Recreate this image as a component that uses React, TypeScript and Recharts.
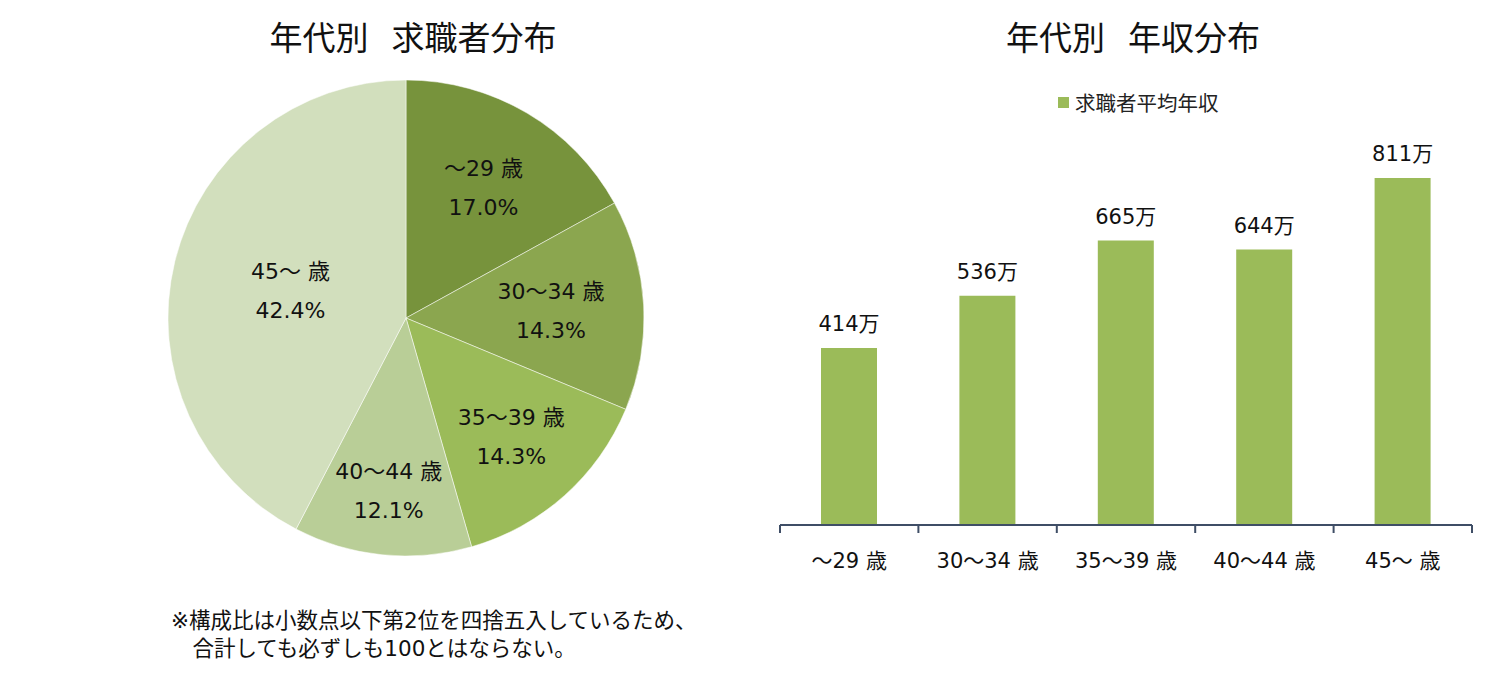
import React from 'react';
import { PieChart, Pie, Cell, BarChart, Bar, XAxis, YAxis, LabelList } from 'recharts';

// 年代別 求職者分布（構成比 %）
const ageGroups = ['～29 歳', '30～34 歳', '35～39 歳', '40～44 歳', '45～ 歳'];
const shares = [17.0, 14.3, 14.3, 12.1, 42.4];
// 年代別 求職者平均年収（万円）
const incomes = [414, 536, 665, 644, 811];

const pieColors = ['#77933c', '#8ba64f', '#9bbb59', '#b9ce97', '#d2dfbd'];
const labelRadius = [0.64, 0.61, 0.665, 0.725, 0.5];
const FONT = '"DejaVu Sans", "Noto Sans CJK JP", sans-serif';
const CJK = '"Noto Sans CJK JP", sans-serif';
const AXIS = '#3f4e66';

const pieData = ageGroups.map((name, i) => ({ name, value: shares[i] }));
const barData = ageGroups.map((name, i) => ({ name, income: incomes[i] }));

const RAD = Math.PI / 180;

function PieLabel(props: any) {
  const { cx, cy, midAngle, outerRadius, index, name, value } = props;
  const r = outerRadius * labelRadius[index];
  const x = cx + r * Math.cos(-midAngle * RAD);
  const y = cy + r * Math.sin(-midAngle * RAD);
  return (
    <text x={x} y={y} textAnchor="middle" fill="#111" fontSize={22} fontFamily={FONT}>
      <tspan x={x} y={y - 11}>{name}</tspan>
      <tspan x={x} y={y + 28}>{value.toFixed(1)}%</tspan>
    </text>
  );
}

function AgeTick(props: any) {
  const { x, y, payload, index, visibleTicksCount, width } = props;
  const half = payload.offset || (width ? width / visibleTicksCount / 2 : 69);
  const last = index === visibleTicksCount - 1;
  return (
    <g>
      <line x1={x - half} x2={x - half} y1={y} y2={y + 8} stroke={AXIS} strokeWidth={2} />
      {last && <line x1={x + half} x2={x + half} y1={y} y2={y + 8} stroke={AXIS} strokeWidth={2} />}
      <text x={x} y={y + 43} textAnchor="middle" fill="#111" fontSize={21} fontFamily={FONT}>
        {payload.value}
      </text>
    </g>
  );
}

const titleStyle: React.CSSProperties = {
  position: 'absolute', top: 14, fontFamily: CJK, fontSize: 33, color: '#111',
  whiteSpace: 'pre', textAlign: 'center', lineHeight: '44px',
};

export default function App() {
  return (
    <div style={{ position: 'absolute', left: 0, top: 0, width: 1496, height: 675, background: '#fff', fontFamily: FONT }}>
      <div style={{ ...titleStyle, left: 213, width: 400 }}>{'年代別\u2002\u2009求職者分布'}</div>
      <div style={{ ...titleStyle, left: 933, width: 400 }}>{'年代別\u2002\u2009年収分布'}</div>

      <div style={{ position: 'absolute', left: 0, top: 0 }}>
        <PieChart width={760} height={600}>
          <Pie
            data={pieData}
            dataKey="value"
            nameKey="name"
            cx={401}
            cy={313}
            outerRadius={238}
            startAngle={90}
            endAngle={-270}
            stroke="#ffffff"
            strokeOpacity={0.5}
            strokeWidth={1}
            label={PieLabel}
            labelLine={false}
            isAnimationActive={false}
          >
            {pieData.map((d, i) => (
              <Cell key={d.name} fill={pieColors[i]} />
            ))}
          </Pie>
        </PieChart>
      </div>

      <div style={{ position: 'absolute', left: 171, top: 607, fontSize: 21.5, lineHeight: '28px', color: '#111', whiteSpace: 'pre', fontFamily: FONT }}>
        {'※構成比は小数点以下第2位を四捨五入しているため、\n　合計しても必ずしも100とはならない。'}
      </div>

      <div style={{ position: 'absolute', left: 700, top: 0 }}>
        <BarChart width={796} height={675} data={barData} margin={{ top: 140, right: 24, bottom: 120, left: 80 }}>
          <XAxis
            dataKey="name"
            axisLine={{ stroke: AXIS, strokeWidth: 2 }}
            tickLine={false}
            tickSize={0}
            tickMargin={0}
            tick={<AgeTick />}
            interval={0}
          />
          <YAxis hide domain={[0, 900]} />
          <Bar dataKey="income" fill="#9bbb59" barSize={56} isAnimationActive={false}>
            <LabelList
              dataKey="income"
              position="top"
              offset={17}
              formatter={(v: any) => `${v}万`}
              style={{ fontSize: 21, fontFamily: FONT, fill: '#111' }}
            />
          </Bar>
        </BarChart>
      </div>

      <div style={{ position: 'absolute', left: 1058, top: 87, display: 'flex', alignItems: 'center', fontSize: 20.5, color: '#222', fontFamily: CJK }}>
        <span style={{ display: 'inline-block', width: 11, height: 11, background: '#9bbb59', marginRight: 6 }} />
        求職者平均年収
      </div>
    </div>
  );
}
